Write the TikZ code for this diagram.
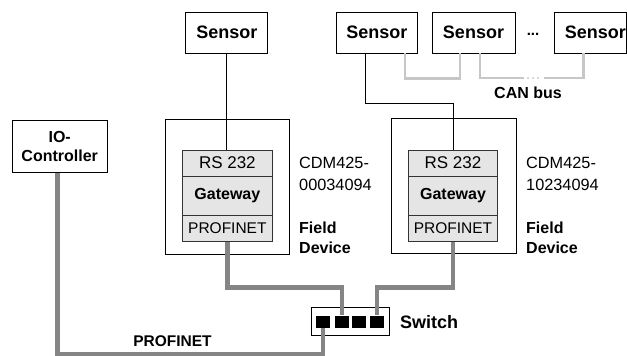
\documentclass[tikz,border=0pt]{standalone}
\usepackage{fontspec}
\setmainfont{Liberation Sans}
\begin{document}
\begin{tikzpicture}[x=1pt,y=-1pt,
  box/.style={draw=black, line width=0.9pt, fill=white, inner sep=0pt},
  sensorbox/.style={box, minimum width=82pt, minimum height=41pt, font=\fontsize{18}{21}\selectfont\bfseries},
  fdbox/.style={box, minimum height=135pt},
  layer/.style={draw=black!80, line width=0.9pt, fill=black!10, inner sep=0pt, minimum width=89.3pt},
  rsfont/.style={font=\fontsize{17}{20}\selectfont},
  gwfont/.style={font=\fontsize{16}{20}\selectfont\bfseries},
  pnfont/.style={font=\fontsize{15.5}{19}\selectfont},
  reg/.style={font=\fontsize{16.3}{20}\selectfont, inner sep=0pt, anchor=base west},
  bld/.style={font=\fontsize{16}{20}\selectfont\bfseries, inner sep=0pt, anchor=base west},
  port/.style={fill=black, minimum width=13.5pt, minimum height=12.3pt, inner sep=0pt},
  pnline/.style={draw=black!48, line width=4.5pt},
  canline/.style={draw=black!22, line width=2.5pt},
  sigline/.style={draw=black, line width=0.9pt},
]
\useasboundingbox (0,0) rectangle (627,356);

% sensors
\node[sensorbox] (s1) at (226.8,32.5) {Sensor};
\node[sensorbox, minimum width=80.3pt] (s2) at (376.8,32.5) {Sensor};
\node[sensorbox, minimum width=83pt] (s3) at (473.5,32.5) {Sensor};
\node[sensorbox, minimum width=72.5pt] (s4) at (590.3,32.5) {\hspace*{10pt}Sensor};
\node[font=\fontsize{15}{18}\selectfont\bfseries, anchor=base, inner sep=0pt] (dots) at (533,35) {...};

% field devices
\node[fdbox, minimum width=124pt] (fd1) at (227,186.5) {};
\node[fdbox, minimum width=125pt] (fd2) at (454.2,186) {};

\node[layer, minimum height=26pt, rsfont] (rs1) at (227.35,163) {RS 232};
\node[layer, minimum height=39pt, gwfont] (gw1) at (227.35,195.5) {Gateway};
\node[layer, minimum height=26.7pt, pnfont] (pn1) at (227.35,228.35) {PROFINET};

\node[layer, minimum height=26pt, rsfont] (rs2) at (453,163) {RS 232};
\node[layer, minimum height=39pt, gwfont] (gw2) at (453,195.5) {Gateway};
\node[layer, minimum height=26.7pt, pnfont] (pn2) at (453,228.35) {PROFINET};

\node[reg] (c1a) at (299,168) {CDM425-};
\node[reg] (c1b) at (299,190) {00034094};
\node[bld] (f1a) at (299,233) {Field};
\node[bld] (f1b) at (299,253) {Device};

\node[reg] (c2a) at (526,168) {CDM425-};
\node[reg] (c2b) at (526,190) {10234094};
\node[bld] (f2a) at (526,233) {Field};
\node[bld] (f2b) at (526,253) {Device};

% IO controller
\node[box, minimum width=95.3pt, minimum height=52.3pt, align=center,
      font=\fontsize{16}{19}\selectfont\bfseries] (ioc) at (59.7,146.2) {IO-\\Controller};

% switch
\node[box, minimum width=78pt, minimum height=28pt] (sw) at (350,321) {};
\node[font=\fontsize{18}{21}\selectfont\bfseries, anchor=base west, inner sep=0pt] (swl) at (400,328) {Switch};

% signal lines
\draw[sigline] (s1.south) -- (s1.south |- rs1.north);
\draw[sigline] ([xshift=-11.8pt]s2.south) -- ++(0,50) -| (rs2.north);

% CAN bus
\coordinate (ca) at (523.5,78);
\coordinate (cb) at (544,78);
\draw[canline] ([xshift=28.2pt]s2.south) -- ++(0,25) -| ([xshift=-13.5pt]s3.south);
\draw[canline] ([xshift=6.5pt]s3.south) |- (ca);
\draw[canline] (cb) -| ([xshift=-7pt]s4.south);
\foreach \xx in {528,533,538} \fill[black!30] (\xx,78) circle (0.9pt);
\node[bld, anchor=base] (can) at (528,98.3) {CAN bus};

% ports
\node[port] (p1) at (322.8,321.8) {};
\node[port] (p2) at (341.8,321.8) {};
\node[port] (p3) at (359,321.8) {};
\node[port] (p4) at (377,321.8) {};

% PROFINET lines
\draw[pnline] ([xshift=-2pt]ioc.south) -- ++(0,181) -| (p1.south);
\draw[pnline] (pn1.south) -- ++(0,45.3) -| (p2.north);
\draw[pnline] (pn2.south) -- ++(0,45.3) -| (p4.north);
\node[font=\fontsize{15.5}{18}\selectfont\bfseries, anchor=base, inner sep=0pt] (pnl) at (172.5,346.7) {PROFINET};
\end{tikzpicture}
\end{document}
